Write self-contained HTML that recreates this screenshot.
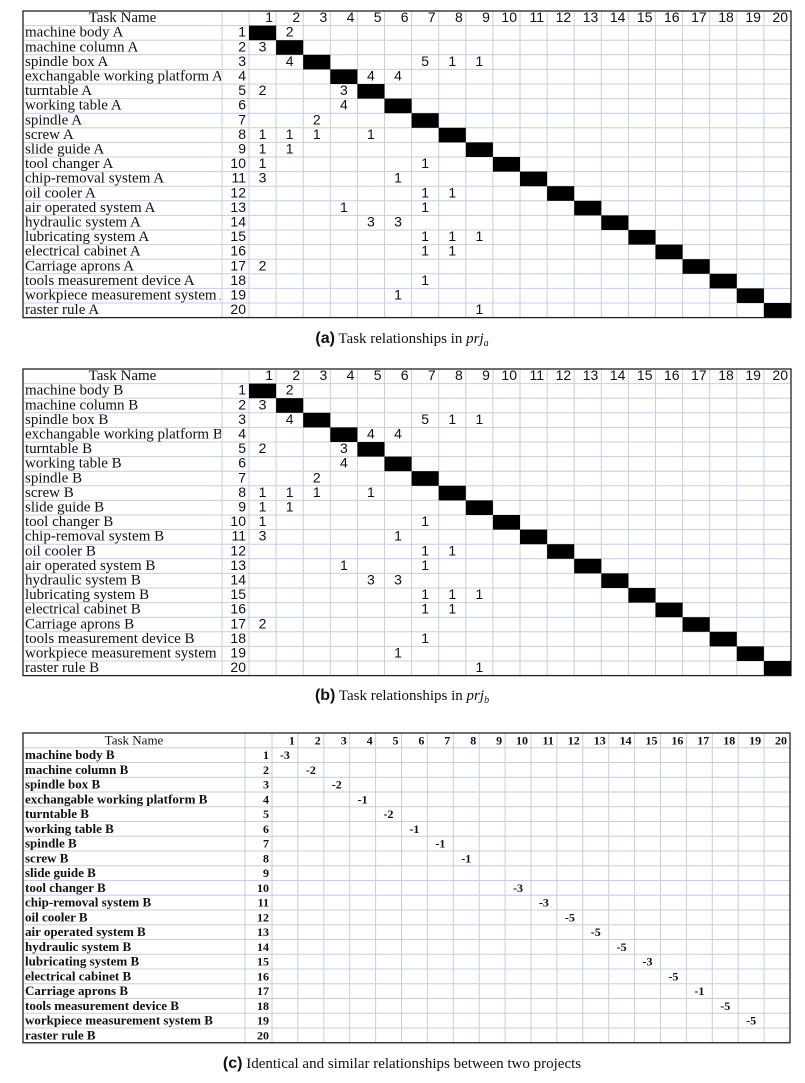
<!DOCTYPE html>
<html><head><meta charset="utf-8"><style>
body{margin:0;background:#fff;width:805px;height:1083px;overflow:hidden}
svg{display:block}
.cap{font-family:"Liberation Serif",serif;font-size:15px;fill:#111}
.capb{font-family:"Liberation Sans",sans-serif;font-weight:bold;font-size:16px}
</style></head><body>
<svg id="fig" width="805" height="1083"></svg>
<script>
const namesA = ["machine body A","machine column A","spindle box A","exchangable working platform A","turntable A","working table A","spindle A","screw A","slide guide A","tool changer A","chip-removal system A","oil cooler A","air operated system A","hydraulic system A","lubricating system A","electrical cabinet A","Carriage aprons A","tools measurement device A","workpiece measurement system A","raster rule A"];
const namesB = namesA.map(n=>n.replace(/ A$/," B"));
const namesC = namesB.slice();
// entries: [row, col, value]
const relEntries = [[1,2,2],[2,1,3],[3,2,4],[3,7,5],[3,8,1],[3,9,1],[4,5,4],[4,6,4],[5,1,2],[5,4,3],[6,4,4],[7,3,2],[8,1,1],[8,2,1],[8,3,1],[8,5,1],[9,1,1],[9,2,1],[10,1,1],[10,7,1],[11,1,3],[11,6,1],[12,7,1],[12,8,1],[13,4,1],[13,7,1],[14,5,3],[14,6,3],[15,7,1],[15,8,1],[15,9,1],[16,7,1],[16,8,1],[17,1,2],[18,7,1],[19,6,1],[20,9,1]];
const diagC = [-3,-2,-2,-1,-2,-1,-1,-1,null,-3,-3,-5,-5,-5,-3,-5,-1,-5,-5,null];

const NS="http://www.w3.org/2000/svg";
const svg=document.getElementById('fig');
function mk(tag,attrs,parent){const e=document.createElementNS(NS,tag);for(const k in attrs)e.setAttribute(k,attrs[k]);(parent||svg).appendChild(e);return e;}

function table(cfg){
  const g=mk('g',{});
  
  
  const {x0,y0,nameW,idxW,cellW,rowH}=cfg;
  const n=20, mx=x0+nameW+idxW, W=nameW+idxW+n*cellW, H=(n+1)*rowH;
  const clipId=cfg.name+'-clip';
  const cp=mk('clipPath',{id:clipId},g);mk('rect',{x:x0,y:y0,width:nameW-1,height:H},cp);
  for(let i=1;i<=n;i++){mk('line',{x1:x0,x2:x0+W,y1:y0+i*rowH,y2:y0+i*rowH,stroke:'#c8cde0','stroke-width':1},g);}
  for(let j=0;j<=n;j++){mk('line',{x1:mx+j*cellW,x2:mx+j*cellW,y1:y0,y2:y0+H,stroke:'#c8cde0','stroke-width':1},g);}
  mk('line',{x1:x0+nameW,x2:x0+nameW,y1:y0,y2:y0+H,stroke:'#c8cde0'},g);
  mk('rect',{x:x0,y:y0,width:W,height:H,fill:'none',stroke:'#222','stroke-width':1.3},g);
  const hdr=mk('text',{x:x0+nameW/2,y:y0+rowH-3.5,'text-anchor':'middle','font-family':'Liberation Serif, serif','font-size':cfg.fs,fill:'#111'},g);
  hdr.textContent='Task Name';
  
  
  for(let j=1;j<=n;j++){
    const t=mk('text',{x:mx+j*cellW-3,y:y0+rowH-3.5,'text-anchor':'end','font-family':cfg.numFont,'font-size':cfg.nfs,'font-weight':cfg.bold?'bold':'normal',fill:'#111'},g);
    t.textContent=j;
    
    
  }
  cfg.names.forEach((nm,i)=>{
    const y=y0+(i+2)*rowH-3.5;
    const t=mk('text',{x:x0+2,y:y,'font-family':'Liberation Serif, serif','font-size':cfg.fs,'font-weight':cfg.bold?'bold':'normal',fill:'#111','clip-path':'url(#'+clipId+')'},g);
    t.textContent=nm;
    
    
    const ix=mk('text',{x:x0+nameW+idxW-3,y:y,'text-anchor':'end','font-family':cfg.numFont,'font-size':cfg.nfs,'font-weight':cfg.bold?'bold':'normal',fill:'#111'},g);
    ix.textContent=i+1;
    
    
  });
  if(cfg.diagBlack){
    for(let i=1;i<=n;i++){
      const r=mk('rect',{x:mx+(i-1)*cellW,y:y0+i*rowH,width:cellW,height:rowH,fill:'#000'},g);
      
      
    }
  }
  cfg.entries.forEach(([r,c,v])=>{
    const t=mk('text',{x:mx+(c-1)*cellW+cellW/2,y:y0+(r+1)*rowH-3.5,'text-anchor':'middle','font-family':cfg.numFont,'font-size':cfg.nfs,'font-weight':cfg.bold?'bold':'normal',fill:'#111'},g);
    t.textContent=v;
    
    
  });
}
table({name:'matrix-a',x0:23,y0:11,nameW:199,idxW:27,cellW:27.1,rowH:14.6,fs:15,nfs:14,numFont:'Liberation Sans, sans-serif',names:namesA,entries:relEntries,diagBlack:true});
table({name:'matrix-b',x0:23,y0:369,nameW:199,idxW:27,cellW:27.1,rowH:14.6,fs:15,nfs:14,numFont:'Liberation Sans, sans-serif',names:namesB,entries:relEntries,diagBlack:true});
const cEntries=[];diagC.forEach((v,i)=>{if(v!==null)cEntries.push([i+1,i+1,v]);});
table({name:'matrix-c',x0:23,y0:733,nameW:222,idxW:27,cellW:25.9,rowH:14.75,fs:13,nfs:12,bold:true,numFont:'Liberation Serif, serif',names:namesC,entries:cEntries,diagBlack:false});
</script>
<svg width="805" height="1083" style="position:absolute;left:0;top:0">
<text class="cap" x="402" y="343" text-anchor="middle"><tspan class="capb">(a)</tspan> Task relationships in <tspan font-style="italic">prj</tspan><tspan font-style="italic" font-size="10" dy="3">a</tspan></text>
<text class="cap" x="402" y="700" text-anchor="middle"><tspan class="capb">(b)</tspan> Task relationships in <tspan font-style="italic">prj</tspan><tspan font-style="italic" font-size="10" dy="3">b</tspan></text>
<text class="cap" x="402" y="1068" text-anchor="middle"><tspan class="capb">(c)</tspan> Identical and similar relationships between two projects</text>
</svg>
</body></html>
